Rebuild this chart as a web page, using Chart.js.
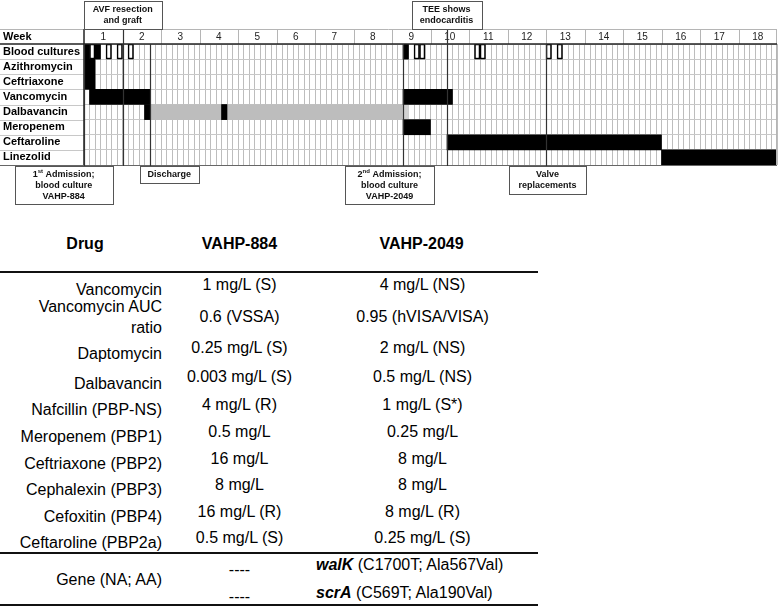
<!DOCTYPE html>
<html><head><meta charset="utf-8">
<script src="https://cdn.jsdelivr.net/npm/chart.js@4.4.1/dist/chart.umd.min.js"></script>
<style>
body{margin:0;background:#fff;font-family:'Liberation Sans',Arial,sans-serif;}
#wrap{position:relative;width:778px;height:607px;overflow:hidden;background:#fff;}
#c{position:absolute;left:0;top:0;}
.t{position:absolute;white-space:nowrap;font-size:16px;line-height:20px;color:#000;}
.r{left:0;width:162px;text-align:right;}
.b{font-weight:bold;}
.hr{position:absolute;height:2px;background:#111;left:0;width:538px;}
</style></head><body><div id="wrap"><canvas id="c" width="778" height="210"></canvas></div>
<script>
// ---------- timeline data ----------
const rows = ['Blood cultures','Azithromycin','Ceftriaxone','Vancomycin','Dalbavancin','Meropenem','Ceftaroline','Linezolid'];
const weekLabels = ['1','2','3','4','5','6','7','8','9','10','11','12','13','14','15','16','17','18'];
const totalDays = 126;
const cultPositiveDays = [0, 2, 58];
const cultNegativeDays = [1, 4, 6, 8, 60, 61, 71, 72, 84, 86];
const therapyDrug  = ['Azithromycin','Ceftriaxone','Vancomycin','Vancomycin','Dalbavancin','Dalbavancin','Meropenem','Ceftaroline','Linezolid'];
const therapyStart = [0, 0, 1, 58, 11, 25, 58, 66, 105];
const therapyEnd   = [2, 2, 12, 67, 12, 26, 63, 105, 126];
const dalbaLevelStart = [12, 58];
const dalbaLevelEnd   = [58, 59];
const eventDays   = [7, 66, 0, 12, 58, 84];
const eventLabels = [['AVF resection','and graft'],['TEE shows','endocarditis'],['1st Admission;','blood culture','VAHP-884'],['Discharge'],['2nd Admission;','blood culture','VAHP-2049'],['Valve','replacements']];

// ---------- table data ----------
const tblDrugs = ['Vancomycin','Vancomycin AUC|ratio','Daptomycin','Dalbavancin','Nafcillin (PBP-NS)','Meropenem (PBP1)','Ceftriaxone (PBP2)','Cephalexin (PBP3)','Cefoxitin (PBP4)','Ceftaroline (PBP2a)'];
const mic884  = ['1 mg/L (S)','0.6 (VSSA)','0.25 mg/L (S)','0.003 mg/L (S)','4 mg/L (R)','0.5 mg/L','16 mg/L','8 mg/L','16 mg/L (R)','0.5 mg/L (S)'];
const mic2049 = ['4 mg/L (NS)','0.95 (hVISA/VISA)','2 mg/L (NS)','0.5 mg/L (NS)','1 mg/L (S*)','0.25 mg/L','8 mg/L','8 mg/L','8 mg/L (R)','0.25 mg/L (S)'];
const tblHeaders = ['Drug','VAHP-884','VAHP-2049'];
const geneRowLabel = 'Gene (NA; AA)';
const gene884 = ['----','----'];
const geneNames = ['walK','scrA'];
const geneChanges = ['(C1700T; Ala567Val)','(C569T; Ala190Val)'];

// ---------- layout (not data) ----------
const eventLayout = [
  {side:'top', dx:-39.8, w:78, h:29},
  {side:'top', dx:-36, w:70, h:29},
  {side:'bottom', dx:-70, w:98.3, h:38.6},
  {side:'bottom', dx:-10.7, w:59, h:17.6},
  {side:'bottom', dx:-58.3, w:88.6, h:38.6},
  {side:'bottom', dx:-37.7, w:77.4, h:28.6}
];
const FONT = "'Liberation Sans', Arial, sans-serif";
Chart.defaults.font.family = FONT;

const therapyData = therapyDrug.map((d,i)=>({x:[therapyStart[i], therapyEnd[i]], y:d}));
const posData = cultPositiveDays.map(d=>({x:[d, d+1], y:rows[0]}));
const negData = cultNegativeDays.map(d=>({x:[d, d+1], y:rows[0]}));
const dalbaData = dalbaLevelStart.map((s,i)=>({x:[s, dalbaLevelEnd[i]], y:'Dalbavancin'}));

function drawRich(ctx, txt, cx, cy){
  const m = txt.match(/^(\d+)(st|nd|rd|th)(.*)$/);
  ctx.textBaseline = 'middle';
  if(!m){ ctx.font = 'bold 9px '+FONT; ctx.textAlign='center'; ctx.fillText(txt, cx, cy); return; }
  ctx.font = 'bold 9px '+FONT; const w1 = ctx.measureText(m[1]).width; const w3 = ctx.measureText(m[3]).width;
  ctx.font = 'bold 6px '+FONT; const w2 = ctx.measureText(m[2]).width;
  let x = cx - (w1+w2+w3)/2;
  ctx.textAlign = 'left';
  ctx.font = 'bold 9px '+FONT; ctx.fillText(m[1], x, cy); x += w1;
  ctx.font = 'bold 6px '+FONT; ctx.fillText(m[2], x, cy-3); x += w2;
  ctx.font = 'bold 9px '+FONT; ctx.fillText(m[3], x, cy);
}

const overlay = {
  id:'overlay',
  afterDraw(chart){
    const ctx = chart.ctx, xs = chart.scales.x, ys = chart.scales.y, ca = chart.chartArea;
    const L = ca.left, R = ca.right, T = ca.top, B = ca.bottom, HT = 29;
    ctx.save();
    // header row
    ctx.strokeStyle = '#b5b5b5'; ctx.lineWidth = 1;
    ctx.beginPath(); ctx.moveTo(0, HT+0.5); ctx.lineTo(R, HT+0.5); ctx.stroke();
    for(let k=1;k<weekLabels.length;k++){
      const x = Math.round(xs.getPixelForValue(k*7))+0.5;
      ctx.beginPath(); ctx.moveTo(x, HT); ctx.lineTo(x, T); ctx.stroke();
    }
    ctx.beginPath(); ctx.moveTo(R-0.5, HT); ctx.lineTo(R-0.5, B); ctx.stroke();
    // label column row lines
    ctx.strokeStyle = '#c8c8c8';
    for(let i=1;i<rows.length;i++){
      const y = Math.round((ys.getPixelForValue(i-1)+ys.getPixelForValue(i))/2)+0.5;
      ctx.beginPath(); ctx.moveTo(0, y); ctx.lineTo(L, y); ctx.stroke();
    }
    ctx.fillStyle = '#222'; ctx.font = '10px '+FONT; ctx.textAlign='center'; ctx.textBaseline='middle';
    weekLabels.forEach((w,k)=>{ ctx.fillText(w, xs.getPixelForValue(k*7+3.5), 37.5); });
    ctx.fillStyle = '#000'; ctx.font = 'bold 11px '+FONT; ctx.textAlign='left';
    ctx.fillText('Week', 3, 37);
    // header bottom + column separator + bottom line
    ctx.strokeStyle = '#222'; ctx.lineWidth = 1.5;
    ctx.beginPath(); ctx.moveTo(0, T); ctx.lineTo(R, T); ctx.stroke();
    ctx.beginPath(); ctx.moveTo(L, HT); ctx.lineTo(L, B); ctx.stroke();
    ctx.strokeStyle = '#666'; ctx.lineWidth = 1;
    ctx.beginPath(); ctx.moveTo(0, B+0.5); ctx.lineTo(R, B+0.5); ctx.stroke();
    // event lines and boxes
    eventDays.forEach((d,i)=>{
      const lay = eventLayout[i];
      const x = Math.round(xs.getPixelForValue(d))+0.5;
      ctx.strokeStyle = '#333'; ctx.lineWidth = 1.2;
      ctx.beginPath(); ctx.moveTo(x, lay.side==='top'?HT:T); ctx.lineTo(x, B+1); ctx.stroke();
      const bx = x + lay.dx, by = lay.side==='top' ? 0.5 : B+1;
      ctx.fillStyle = '#fff'; ctx.fillRect(bx, by, lay.w, lay.h);
      ctx.strokeStyle = '#555'; ctx.lineWidth = 1;
      ctx.strokeRect(Math.round(bx)+0.5, Math.round(by)+0.5, Math.round(lay.w), Math.round(lay.h)-1);
      const lines = eventLabels[i], lh = 10.8;
      const cy0 = by + lay.h/2 - (lines.length-1)*lh/2;
      ctx.fillStyle = '#111';
      lines.forEach((t,j)=> drawRich(ctx, t, bx + lay.w/2, cy0 + j*lh));
    });
    ctx.restore();
  }
};

new Chart(document.getElementById('c'), {
  type:'bar',
  data:{
    labels: rows,
    datasets:[
      {data: dalbaData, backgroundColor:['#bdbdbd','#d2d2d2'], borderWidth:0, order:4},
      {data: therapyData, backgroundColor:'#000', borderWidth:0, order:3},
      {data: posData, backgroundColor:'#000', borderWidth:0, order:2},
      {data: negData, backgroundColor:'#fff', borderColor:'#000', borderWidth:1.6, borderSkipped:false, order:1}
    ]
  },
  options:{
    indexAxis:'y', responsive:false, animation:false, devicePixelRatio:1,
    layout:{padding:{left:3, right:1, top:44, bottom:45}},
    datasets:{bar:{grouped:false, barPercentage:1, categoryPercentage:1}},
    plugins:{legend:{display:false}, tooltip:{enabled:false}},
    scales:{
      x:{type:'linear', min:0, max:totalDays, position:'bottom',
         ticks:{display:false, stepSize:1, autoSkip:false},
         grid:{color:'#bdbdbd', lineWidth:1, drawTicks:false},
         border:{display:false},
         afterFit(s){ s.height = 0; }},
      y:{type:'category', position:'left',
         ticks:{crossAlign:'far', color:'#000', font:{size:11, weight:'bold'}, padding:0, autoSkip:false},
         grid:{color:'#c8c8c8', lineWidth:1, drawTicks:false, offset:true},
         border:{display:false},
         afterFit(s){ s.width = 81; }}
    }
  },
  plugins:[overlay]
});

// ---------- table ----------
const wrap = document.getElementById('wrap');
function addDiv(cls, html, style){
  const d = document.createElement('div'); d.className = 't '+cls; d.innerHTML = html;
  Object.assign(d.style, style); wrap.appendChild(d); return d;
}
function centered(txt, cx, cy, extra){ return addDiv(extra||'', txt, {left:(cx-110)+'px', width:'220px', textAlign:'center', top:(cy-10)+'px'}); }
const headerCx = [85, 239.5, 421.5];
tblHeaders.forEach((h,i)=> centered(h, headerCx[i], 244, 'b'));
const lineY = [270.7, 551.7, 604];
lineY.forEach(y=>{ const d=document.createElement('div'); d.className='hr'; d.style.top=y+'px'; wrap.appendChild(d); });
const labelY = [289, 306, 353, 383, 409.5, 436.7, 463.3, 489.3, 516, 542.7];
const valueY = [285, 317, 348, 377, 405, 432.3, 459.3, 485, 511.7, 538.3];
tblDrugs.forEach((lab,i)=>{
  const parts = lab.split('|');
  addDiv('r', parts.join('<br>'), {top:(labelY[i]-10.5)+'px', lineHeight:'21px'});
  centered(mic884[i], 239.5, valueY[i]);
  centered(mic2049[i], 422.5, valueY[i]);
});
addDiv('r', geneRowLabel, {top:(580-10)+'px'});
const dashY = [570, 596.7], geneY = [565, 592.7];
gene884.forEach((g,i)=> centered(g, 239.5, dashY[i]));
geneNames.forEach((g,i)=> addDiv('', '<b><i>'+g+'</i></b> '+geneChanges[i], {left:'316px', top:(geneY[i]-10)+'px'}));
</script></body></html>
